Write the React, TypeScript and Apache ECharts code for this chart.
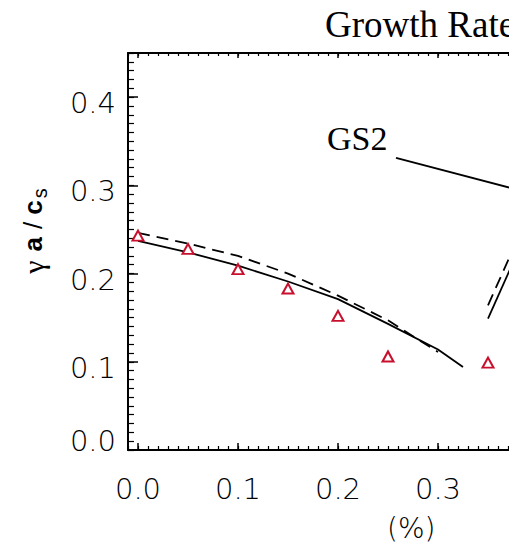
import React, { useEffect, useRef } from "react";
import * as echarts from "echarts";

// Axis ranges and tick labels
const X_MIN = -0.01;
const X_MAX = 0.45;
const Y_MIN = 0;
const Y_MAX = 0.45;
const xMajorTicks = [0.0, 0.1, 0.2, 0.3, 0.4];
const xTickLabels = [0.0, 0.1, 0.2, 0.3];
const yMajorTicks = [0.0, 0.1, 0.2, 0.3, 0.4];
const yTickLabels = [0.1, 0.2, 0.3, 0.4];

// Simulation points (red triangles)
const pointX = [0.0, 0.05, 0.1, 0.15, 0.2, 0.25, 0.35];
const pointY = [0.243, 0.228, 0.205, 0.183, 0.152, 0.106, 0.099];

// Solid model curve
const solidX = [0.0, 0.05, 0.1, 0.15, 0.2, 0.25, 0.3, 0.325];
const solidY = [0.237, 0.224, 0.209, 0.191, 0.171, 0.143, 0.114, 0.094];

// Dashed model curve
const dashX = [0.0, 0.05, 0.1, 0.15, 0.2, 0.25, 0.3];
const dashY = [0.246, 0.234, 0.22, 0.2, 0.175, 0.147, 0.111];

// Second branch beyond the gap
const solidBranchX = [0.35, 0.38];
const solidBranchY = [0.149, 0.225];
const dashBranchX = [0.35, 0.38];
const dashBranchY = [0.164, 0.24];

// Leader line from the GS2 label
const gs2X = [0.258, 0.4];
const gs2Y = [0.331, 0.289];

const pairs = (xs: number[], ys: number[]) => xs.map((x, i) => [x, ys[i]]);
const minorSteps = (lo: number, hi: number) => {
  const out: number[] = [];
  for (let i = Math.round(lo * 100); i <= Math.round(hi * 100); i++) out.push(i / 100);
  return out;
};

const TICK_FONT = '"DejaVu Sans", sans-serif';
const TICK_WEIGHT = 200;
const SERIF = '"Liberation Serif", "Times New Roman", serif';
const SANS = '"Liberation Sans", Arial, sans-serif';
const RED = "#c8102e";

export default function App() {
  const ref = useRef<HTMLDivElement>(null);

  useEffect(() => {
    if (!ref.current) return;
    const chart = echarts.init(ref.current, null, { renderer: "svg" });

    const hiddenLabel = { show: false };
    const noSplit = { show: false };
    const noLine = { show: false, onZero: false };
    const xMinor = minorSteps(X_MIN, X_MAX);
    const yMinor = minorSteps(Y_MIN, Y_MAX);

    const xBase = { type: "value", min: X_MIN, max: X_MAX, splitLine: noSplit, gridIndex: 0 };
    const yBase = { type: "value", min: Y_MIN, max: Y_MAX, splitLine: noSplit, gridIndex: 0 };
    const axisLine = { show: true, onZero: false, lineStyle: { color: "#000", width: 2 } };
    const tickText = {
      fontFamily: TICK_FONT,
      fontWeight: TICK_WEIGHT,
      fontSize: 29,
      color: "#000",
    };
    const fmt = (v: number) => v.toFixed(1);

    chart.setOption({
      animation: false,
      backgroundColor: "#fff",
      grid: { left: 128, top: 53, width: 460, height: 397 },
      xAxis: [
        {
          ...xBase,
          position: "bottom",
          axisLine,
          axisTick: { show: true, inside: true, length: 7, customValues: xMajorTicks, lineStyle: { color: "#000", width: 1.5 } },
          axisLabel: { show: true, customValues: xTickLabels, formatter: fmt, margin: 24, ...tickText },
        },
        {
          ...xBase,
          position: "bottom",
          axisLine: noLine,
          axisTick: { show: true, inside: true, length: 4, customValues: xMinor, lineStyle: { color: "#000", width: 1.2 } },
          axisLabel: hiddenLabel,
        },
        {
          ...xBase,
          position: "top",
          axisLine,
          axisTick: { show: true, inside: true, length: 5, customValues: xMajorTicks, lineStyle: { color: "#000", width: 1.5 } },
          axisLabel: hiddenLabel,
        },
        {
          ...xBase,
          position: "top",
          axisLine: noLine,
          axisTick: { show: true, inside: true, length: 3, customValues: xMinor, lineStyle: { color: "#000", width: 1.2 } },
          axisLabel: hiddenLabel,
        },
      ],
      yAxis: [
        {
          ...yBase,
          position: "left",
          axisLine,
          axisTick: { show: true, inside: true, length: 10, customValues: yMajorTicks, lineStyle: { color: "#000", width: 1.5 } },
          axisLabel: {
            show: true,
            customValues: yTickLabels,
            formatter: fmt,
            margin: 12,
            verticalAlign: "top",
            lineHeight: 12,
            ...tickText,
          },
        },
        {
          ...yBase,
          position: "left",
          axisLine: noLine,
          axisTick: { show: true, inside: true, length: 6, customValues: yMinor, lineStyle: { color: "#000", width: 1.2 } },
          axisLabel: {
            show: true,
            customValues: [Y_MIN],
            formatter: fmt,
            margin: 12,
            verticalAlign: "bottom",
            lineHeight: 18,
            ...tickText,
          },
        },
        {
          ...yBase,
          position: "right",
          axisLine,
          axisTick: { show: true, inside: true, length: 10, customValues: yMajorTicks, lineStyle: { color: "#000", width: 1.5 } },
          axisLabel: hiddenLabel,
        },
      ],
      series: [
        {
          type: "line",
          name: "solid",
          data: pairs(solidX, solidY),
          symbol: "none",
          lineStyle: { color: "#000", width: 1.8 },
          clip: true,
        },
        {
          type: "line",
          name: "dashed",
          data: pairs(dashX, dashY),
          symbol: "none",
          lineStyle: { color: "#000", width: 1.8, type: [12, 7] },
          clip: true,
        },
        {
          type: "line",
          name: "solid branch",
          data: pairs(solidBranchX, solidBranchY),
          symbol: "none",
          lineStyle: { color: "#000", width: 1.8 },
          clip: true,
        },
        {
          type: "line",
          name: "dashed branch",
          data: pairs(dashBranchX, dashBranchY),
          symbol: "none",
          lineStyle: { color: "#000", width: 1.8, type: [12, 7] },
          clip: true,
        },
        {
          type: "line",
          name: "GS2",
          data: pairs(gs2X, gs2Y),
          symbol: "none",
          lineStyle: { color: "#000", width: 1.8 },
          clip: true,
        },
        {
          type: "scatter",
          name: "points",
          data: pairs(pointX, pointY),
          symbol: "triangle",
          symbolSize: [11, 10],
          itemStyle: { color: "#fff", borderColor: RED, borderWidth: 2, opacity: 1 },
          z: 5,
        },
      ],
      graphic: [
        {
          type: "text",
          left: 325,
          top: 6,
          style: { text: "Growth Rate", font: `37px ${SERIF}`, fill: "#000" },
        },
        {
          type: "text",
          left: 327,
          top: 121,
          style: { text: "GS2", font: `34px ${SERIF}`, fill: "#000" },
        },
        {
          type: "text",
          left: 387,
          top: 514,
          style: { text: "(%)", font: `${TICK_WEIGHT} 28px ${TICK_FONT}`, fill: "#000" },
        },
        {
          type: "text",
          x: 33,
          y: 231,
          rotation: Math.PI / 2,
          style: {
            text: "{g|γ}{b|a}{n|/}{c|c}{s|s}",
            align: "center",
            verticalAlign: "middle",
            fill: "#000",
            rich: {
              g: { font: `30px ${SERIF}`, fill: "#000" },
              b: { font: `bold 26px ${SANS}`, fill: "#000", padding: [0, 0, 0, 9] },
              n: { font: `26px ${SANS}`, fill: "#000", padding: [0, 0, 0, 8] },
              c: { font: `bold 26px ${SANS}`, fill: "#000", padding: [0, 0, 0, 7] },
              s: { font: `20px ${SANS}`, fill: "#000", padding: [14, 0, 0, 2] },
            },
          },
        },
      ],
    });

    return () => chart.dispose();
  }, []);

  return (
    <div style={{ position: "fixed", left: 0, top: 0, width: 509, height: 544, overflow: "hidden", background: "#fff" }}>
      <div ref={ref} style={{ width: 600, height: 544 }} />
    </div>
  );
}
